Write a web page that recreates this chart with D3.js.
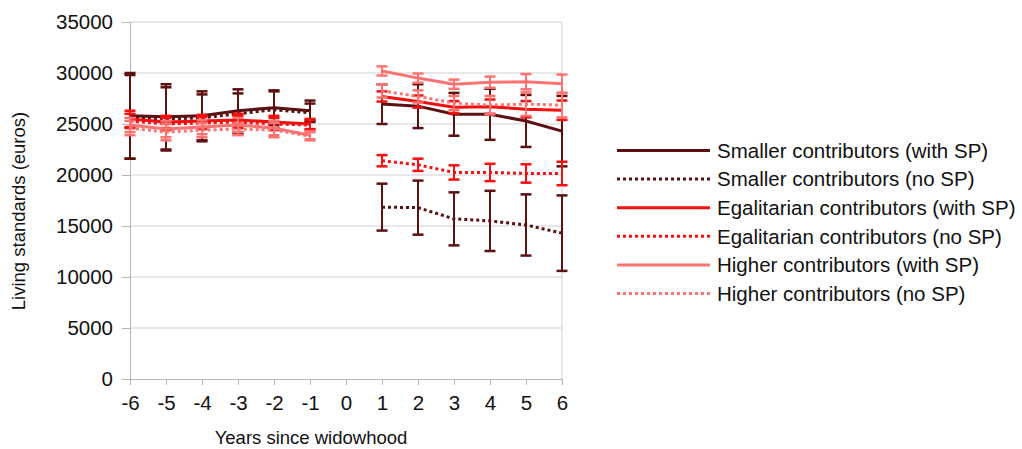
<!DOCTYPE html>
<html>
<head>
<meta charset="utf-8">
<script src="https://cdn.jsdelivr.net/npm/d3@7"></script>
<style>
  html, body { margin: 0; padding: 0; background: #fff; }
  svg { display: block; font-family: "Liberation Sans", Arial, Helvetica, sans-serif; }
</style>
</head>
<body>
<svg id="chart" width="1022" height="449"></svg>
<script>
// ---- data ----
const years = [-6, -5, -4, -3, -2, -1, 1, 2, 3, 4, 5, 6];
const xTicks = [-6, -5, -4, -3, -2, -1, 0, 1, 2, 3, 4, 5, 6];
const yTicks = [0, 5000, 10000, 15000, 20000, 25000, 30000, 35000];

const seriesNames = [
  "Smaller contributors (with SP)",
  "Smaller contributors (no SP)",
  "Egalitarian contributors (with SP)",
  "Egalitarian contributors (no SP)",
  "Higher contributors (with SP)",
  "Higher contributors (no SP)"
];

const smallerWith     = [25800, 25700, 25800, 26300, 26600, 26300, 26950, 26750, 25950, 25950, 25300, 24300];
const smallerWithErr  = [4200, 3200, 2400, 2100, 1700, 1000, 1950, 2150, 2100, 2500, 2550, 3450];
const smallerNo       = [25700, 25500, 25600, 26000, 26400, 26100, 16850, 16800, 15700, 15500, 15100, 14300];
const smallerNoErr    = [4100, 3100, 2300, 2000, 1800, 900, 2300, 2650, 2600, 2950, 3000, 3700];
const egalWith        = [25500, 25200, 25300, 25400, 25200, 25000, 27700, 27200, 26650, 26700, 26450, 26350];
const egalWithErr     = [800, 600, 600, 600, 600, 500, 500, 600, 600, 700, 800, 950];
const egalNo          = [25300, 25000, 25100, 25200, 25000, 24900, 21400, 21000, 20250, 20250, 20150, 20150];
const egalNoErr       = [700, 600, 600, 600, 600, 500, 550, 600, 700, 850, 900, 1150];
const higherWith      = [24900, 24500, 24700, 24900, 24600, 23900, 30200, 29500, 28900, 29100, 29150, 28950];
const higherWithErr   = [700, 800, 700, 700, 700, 400, 450, 450, 450, 550, 750, 900];
const higherNo        = [24600, 24200, 24400, 24500, 24400, 23800, 28250, 27700, 27050, 26850, 26950, 26850];
const higherNoErr     = [700, 800, 700, 600, 700, 400, 650, 600, 700, 900, 1150, 1200];

const seriesValues = [smallerWith, smallerNo, egalWith, egalNo, higherWith, higherNo];
const seriesErrors = [smallerWithErr, smallerNoErr, egalWithErr, egalNoErr, higherWithErr, higherNoErr];
const seriesColors = ["#5c1111", "#5c1111", "#f50f0f", "#f50f0f", "#ff7272", "#ff7272"];
const seriesDotted = [false, true, false, true, false, true];

// ---- layout ----
const svg = d3.select("#chart");
const plotLeft = 130, plotRight = 562, plotTop = 22, plotBottom = 379;
const x = d3.scaleLinear().domain([-6, 6]).range([plotLeft, plotRight]);
const y = d3.scaleLinear().domain([0, 35000]).range([plotBottom, plotTop]);
const font = "\"Liberation Sans\", Arial, Helvetica, sans-serif";

// gridlines
svg.append("g").selectAll("line").data(yTicks.filter(d => d > 0)).join("line")
  .attr("x1", plotLeft).attr("x2", plotRight)
  .attr("y1", d => y(d)).attr("y2", d => y(d))
  .attr("stroke", "#cfcfcf").attr("stroke-width", 1);
// right border
svg.append("line").attr("x1", plotRight).attr("x2", plotRight).attr("y1", plotTop).attr("y2", plotBottom)
  .attr("stroke", "#cfcfcf").attr("stroke-width", 1);

// y axis
const yAxis = d3.axisLeft(y).tickValues(yTicks).tickSize(8).tickPadding(9).tickFormat(d3.format("d"));
const gy = svg.append("g").attr("transform", `translate(${plotLeft},0)`).call(yAxis);
gy.select(".domain").attr("stroke", "#b5b5b5");
gy.selectAll(".tick line").attr("stroke", "#b5b5b5");
gy.selectAll("text").attr("font-size", "20.5px").attr("font-family", font).attr("fill", "#111");

// x axis
const xAxis = d3.axisBottom(x).tickValues(xTicks).tickSize(6).tickPadding(10).tickFormat(d3.format("d"));
const gx = svg.append("g").attr("transform", `translate(0,${plotBottom})`).call(xAxis);
gx.select(".domain").attr("stroke", "#b5b5b5");
gx.selectAll(".tick line").attr("stroke", "#b5b5b5");
gx.selectAll("text").attr("font-size", "20.5px").attr("font-family", font).attr("fill", "#111")
  .text(d => d < 0 ? "-" + Math.abs(d) : String(d));

// axis titles
svg.append("text").attr("x", 311).attr("y", 444).attr("text-anchor", "middle")
  .attr("font-size", "18.5px").attr("fill", "#111").text("Years since widowhood");
svg.append("text").attr("transform", "translate(25,211) rotate(-90)").attr("text-anchor", "middle")
  .attr("font-size", "18.5px").attr("fill", "#111").text("Living standards (euros)");

// series
const line = d3.line().x(d => x(d.year)).y(d => y(d.value));
const capHalf = 5.5;
seriesValues.forEach((vals, i) => {
  const pts = years.map((yr, j) => ({ year: yr, value: vals[j], err: seriesErrors[i][j] }));
  const g = svg.append("g");
  pts.forEach(p => {
    const cx = x(p.year), y1 = y(p.value + p.err), y2 = y(p.value - p.err);
    g.append("line").attr("x1", cx).attr("x2", cx).attr("y1", y1).attr("y2", y2)
      .attr("stroke", seriesColors[i]).attr("stroke-width", 2);
    [y1, y2].forEach(yy => g.append("line")
      .attr("x1", cx - capHalf).attr("x2", cx + capHalf).attr("y1", yy).attr("y2", yy)
      .attr("stroke", seriesColors[i]).attr("stroke-width", 2.5));
  });
  [pts.filter(p => p.year < 0), pts.filter(p => p.year > 0)].forEach(seg => {
    g.append("path").attr("d", line(seg)).attr("fill", "none")
      .attr("stroke", seriesColors[i]).attr("stroke-width", 3)
      .attr("stroke-dasharray", seriesDotted[i] ? "3,3" : null);
  });
});

// legend
const legendY0 = 150.5, legendStep = 28.6;
seriesNames.forEach((name, i) => {
  const ly = legendY0 + i * legendStep;
  svg.append("line").attr("x1", 617).attr("x2", 710).attr("y1", ly).attr("y2", ly)
    .attr("stroke", seriesColors[i]).attr("stroke-width", 3)
    .attr("stroke-dasharray", seriesDotted[i] ? "3,3" : null);
  svg.append("text").attr("x", 717).attr("y", ly).attr("dy", "0.36em")
    .attr("font-size", "20.5px").attr("fill", "#111").text(name);
});
</script>
</body>
</html>
